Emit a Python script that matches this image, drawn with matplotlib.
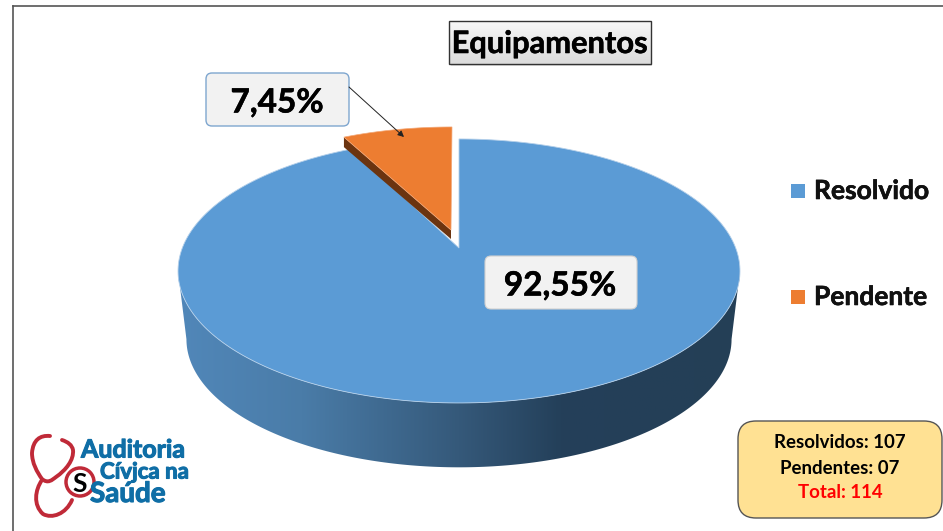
import numpy as np
import matplotlib
matplotlib.use('Agg')
import matplotlib.pyplot as plt
import matplotlib.patheffects as pe
from matplotlib.patches import Polygon, FancyBboxPatch, PathPatch, Circle, Rectangle
from matplotlib.path import Path
from matplotlib.colors import LinearSegmentedColormap

plt.rcParams['font.family'] = ['Lato', 'DejaVu Sans']

# values
labels = ['Resolvido', 'Pendente']
percent = [92.55, 7.45]
colors = ['#5b9bd5', '#ed7d31']
summary = ['Resolvidos: 107', 'Pendentes: 07', 'Total: 114']
summary_colors = ['black', 'black', '#ff0000']
title = 'Equipamentos'


def fmt(v):
    return f'{v:.2f}'.replace('.', ',') + '%'


fig = plt.figure(figsize=(9.43, 5.31), dpi=100)
ax = fig.add_axes([0, 0, 1, 1])
ax.set_xlim(0, 943)
ax.set_ylim(531, 0)
ax.axis('off')

# pie geometry, a tilted circle seen in perspective
cx, cy = 459, 248
k = 0.174
A = 128
B = 276.7
bottom_scale = 0.97
bottom_shift = 69

heavy = [pe.withStroke(linewidth=0.4, foreground='black')]


def rim(angles):
    a = np.radians(angles)
    w = 1 + k * np.cos(a)
    return cx + B * np.sin(a) / w, cy - A * np.cos(a) / w


# frame
ax.plot([13, 13], [531, 6], color='#555555', lw=1.2)
ax.plot([13, 943], [6, 6], color='#555555', lw=1.2)

# side wall with gradient, lower rim a bit narrower than the top
front = np.linspace(100, 260, 200)
fx, fy = rim(front)
lower_x = cx + (fx - cx) * bottom_scale
lower_y = cy + bottom_shift + (fy - cy) * bottom_scale
wall = np.vstack([np.column_stack([fx, fy]),
                  np.column_stack([lower_x, lower_y])[::-1]])
wall_patch = Polygon(wall, closed=True, fc='none', ec='none')
ax.add_patch(wall_patch)
wall_cmap = LinearSegmentedColormap.from_list('wall', [(0, '#5187b9'), (0.22, '#4a7ca8'),
                                                       (0.5, '#35597a'), (0.68, '#24405a'),
                                                       (1, '#243f56')])
img = ax.imshow(np.linspace(0, 1, 256).reshape(1, -1), cmap=wall_cmap,
                extent=[178, 740, 480, 240], aspect='auto', zorder=1)
img.set_clip_path(wall_patch)
ax.set_xlim(0, 943)
ax.set_ylim(531, 0)

# wedges drawn from the percentages
stop = 360 * percent[0] / sum(percent)
bx, by = rim(np.linspace(0, stop, 300))
blue = np.vstack([[cx, cy], np.column_stack([bx, by])])
ax.add_patch(Polygon(blue, closed=True, fc=colors[0], ec='#b5d0ea', lw=0.6, zorder=2))

ox, oy = rim(np.linspace(stop, 360, 60))
arc = np.column_stack([ox, oy]) + [-7, -12]
tip = np.array([cx - 8.0, cy - 18.0])
orange = np.vstack([tip, arc])
left = arc[0]
ax.add_patch(Polygon([tip, left, left + [0, 10], tip + [0, 9]], closed=True,
                     fc='#6b3410', ec='none', zorder=3))
ax.add_patch(Polygon(orange, closed=True, fc=colors[1], ec='#f3a878', lw=0.5, zorder=4))

# data labels
ax.add_patch(FancyBboxPatch((490, 261), 142, 43, boxstyle='round,pad=5,rounding_size=6',
                            fc='#f2f2f2', ec='#d0d0d0', lw=0.8, zorder=5))
ax.text(560, 286, fmt(percent[0]), fontsize=24, fontweight='bold', ha='center', va='center',
        zorder=6, path_effects=heavy)
ax.add_patch(FancyBboxPatch((211, 78), 133, 43, boxstyle='round,pad=5,rounding_size=6',
                            fc='#f2f2f2', ec='#7ea6cf', lw=1, zorder=5))
ax.text(277, 103, fmt(percent[1]), fontsize=24, fontweight='bold', ha='center', va='center',
        zorder=6, path_effects=heavy)
ax.annotate('', xy=(404, 137), xytext=(349, 87), zorder=6,
            arrowprops=dict(arrowstyle='-|>', color='#222222', lw=0.7, mutation_scale=9, shrinkA=0, shrinkB=0))

# title box
ax.add_patch(Rectangle((451, 24), 201, 42, fc='#cccccc', ec='none', alpha=0.6, zorder=1))
ax.add_patch(Rectangle((449, 21), 202, 43, fc='none', ec='#333333', lw=1, zorder=3))
grad = LinearSegmentedColormap.from_list('title', ['#f7f7f7', '#dcdcdc'])
ax.imshow(np.linspace(0, 1, 64).reshape(-1, 1), cmap=grad, extent=[449, 651, 64, 21],
          aspect='auto', zorder=2)
ax.set_xlim(0, 943)
ax.set_ylim(531, 0)
ax.text(550, 44, title, fontsize=22.2, fontweight='bold', ha='center', va='center', zorder=4,
        path_effects=heavy)

# legend
for y, name, c in zip([184, 290], labels, colors):
    ax.add_patch(Rectangle((791, y), 14, 14, fc=c, ec='none'))
    ax.text(814, y + 7, name, fontsize=19, fontweight='bold', ha='left', va='center',
            color='#111111', path_effects=heavy)

# summary box
ax.add_patch(FancyBboxPatch((756, 439), 168, 61, boxstyle='round,pad=18,rounding_size=18',
                            fc='#ffe193', ec='#555555', lw=1))
for y, line, c in zip([443, 468, 492], summary, summary_colors):
    ax.text(840, y, line, fontsize=13.4, fontweight='bold', ha='center', va='center', color=c)

# logo
red = '#c02a38'
tube = Path([(50, 436), (40, 435), (33, 440), (32, 453),
             (32, 463), (37, 472), (42, 479),
             (48, 484), (52, 480), (56, 477),
             (66, 470), (74, 460), (73, 450),
             (72, 445), (68, 442), (62, 440)],
            [Path.MOVETO] + [Path.CURVE4] * 15)
ax.add_patch(PathPatch(tube, fc='none', ec=red, lw=2.8, capstyle='round'))
tube2 = Path([(42, 480), (35, 490), (33, 505), (43, 514),
              (52, 519), (66, 514), (72, 500)],
             [Path.MOVETO] + [Path.CURVE4] * 6)
ax.add_patch(PathPatch(tube2, fc='none', ec=red, lw=2.8, capstyle='round'))
ax.add_patch(Circle((80, 482), 14, fc='white', ec=red, lw=2.5))
ax.text(80, 484, 'S', fontsize=19, fontweight='bold', ha='center', va='center', color='black')
logo_blue = '#0f6ea6'
logo_fx = [pe.withStroke(linewidth=0.8, foreground=logo_blue)]
ax.text(81, 450, 'Auditoria', fontsize=18, fontweight='bold', ha='left', va='center',
        color=logo_blue, path_effects=logo_fx)
ax.text(100, 472, 'Cívjca na', fontsize=16, fontweight='bold', ha='left', va='center',
        color=logo_blue, path_effects=logo_fx)
ax.text(90, 494, 'Saúde', fontsize=20, fontweight='bold', ha='left', va='center',
        color=logo_blue, path_effects=logo_fx)

fig.savefig('out.png', dpi=100)
